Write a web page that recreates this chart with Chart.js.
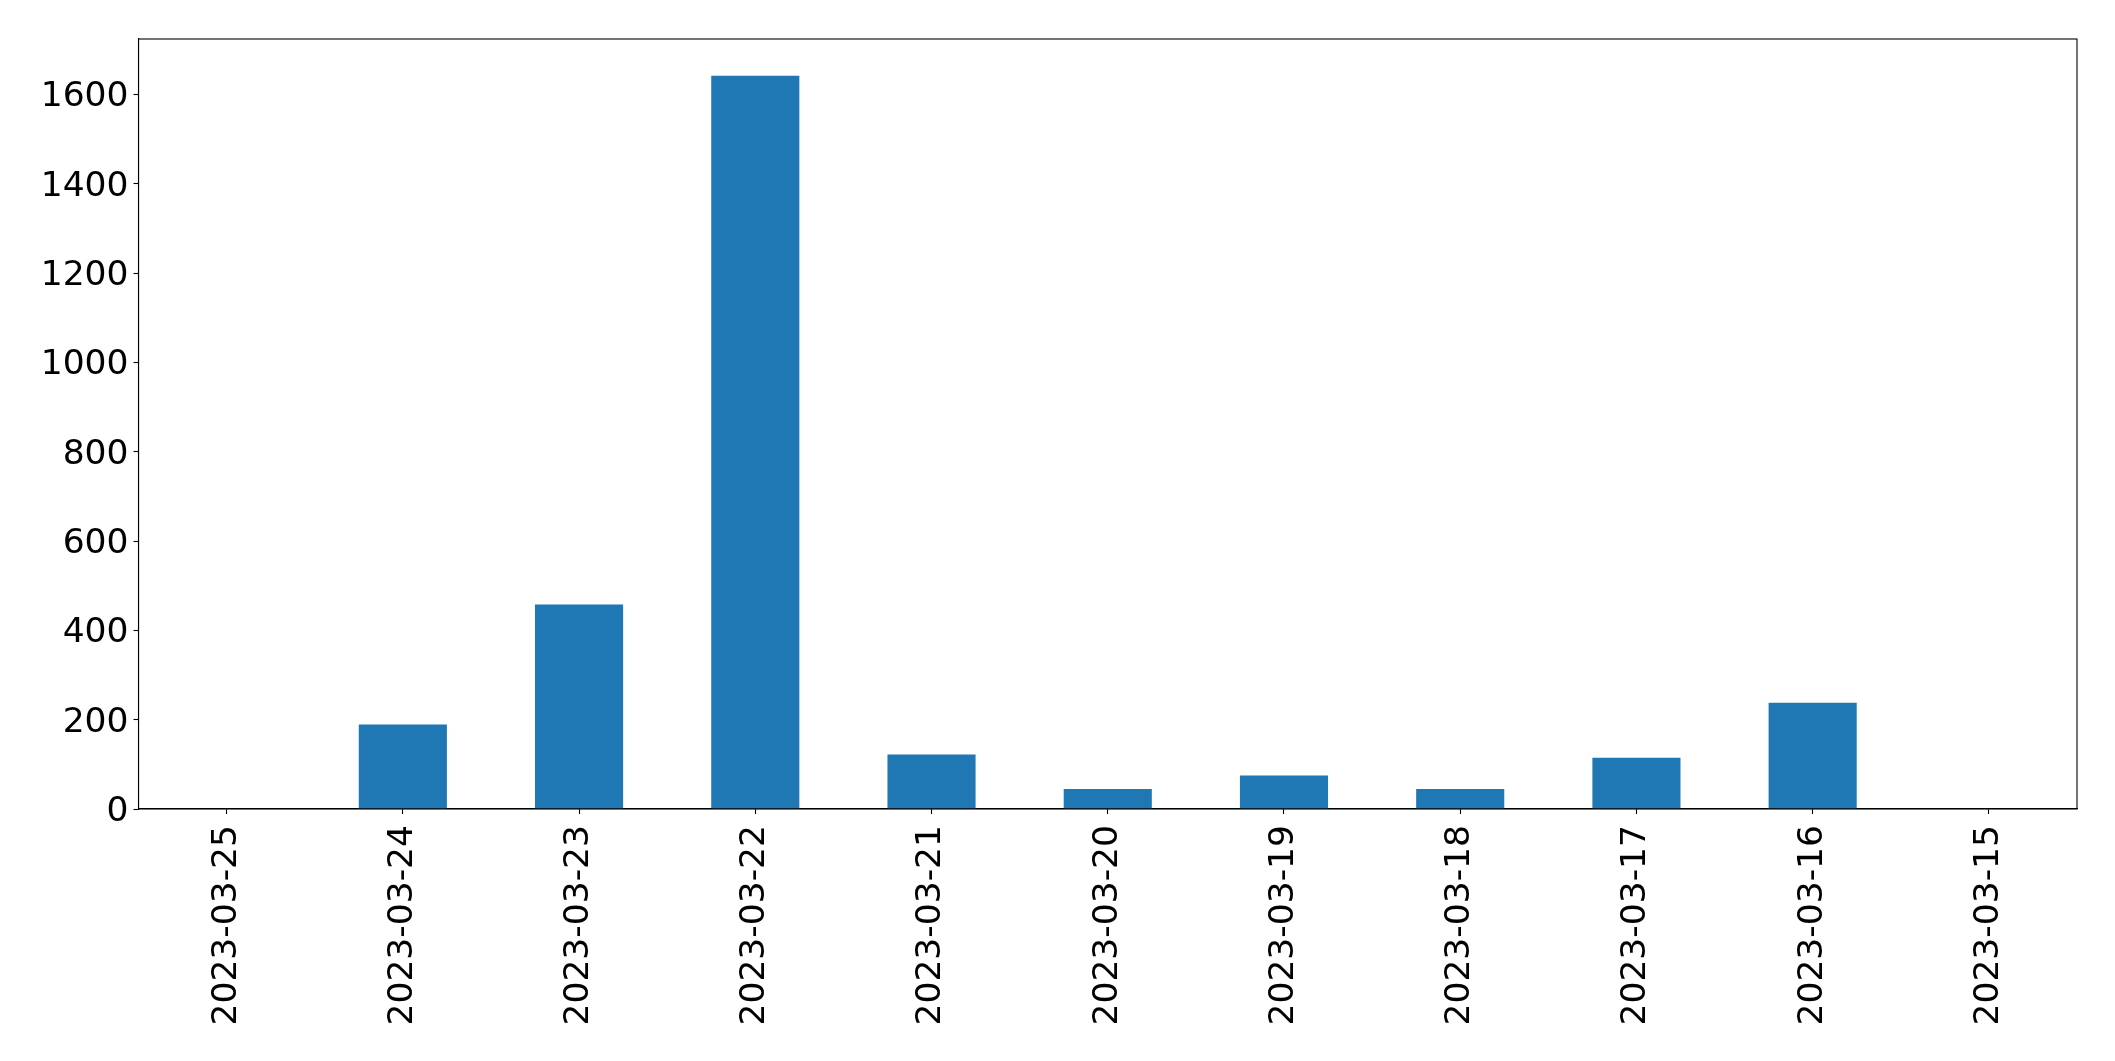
<!DOCTYPE html>
<html>
<head>
<meta charset="utf-8">
<script src="https://cdn.jsdelivr.net/npm/chart.js@4/dist/chart.umd.min.js"></script>
<style>
html,body{margin:0;padding:0;background:#fff;}
canvas{display:block;}
</style>
</head>
<body>
<canvas id="c" width="2115" height="1061"></canvas>
<script>
const categories = ["2023-03-25","2023-03-24","2023-03-23","2023-03-22","2023-03-21","2023-03-20","2023-03-19","2023-03-18","2023-03-17","2023-03-16","2023-03-15"];
const values = [0, 189, 458, 1642, 122, 45, 75, 45, 115, 238, 0];
const yTicks = [0, 200, 400, 600, 800, 1000, 1200, 1400, 1600];

const yMax = Math.max(...values) * 1.05;

const frame = {
  id: 'frame',
  afterDraw(chart) {
    const a = chart.chartArea, ctx = chart.ctx;
    ctx.save();
    ctx.strokeStyle = '#000';
    ctx.lineWidth = 1.1;
    ctx.strokeRect(a.left, a.top, a.right - a.left, a.bottom - a.top);
    ctx.restore();
  }
};

const font = {family: 'DejaVu Sans', size: 34.5};

new Chart(document.getElementById('c'), {
  type: 'bar',
  data: {
    labels: categories,
    datasets: [{
      data: values,
      backgroundColor: '#1f77b4',
      borderWidth: 0,
      barPercentage: 0.5,
      categoryPercentage: 1.0
    }]
  },
  options: {
    responsive: false,
    devicePixelRatio: 1,
    animation: false,
    layout: {padding: {left: 0, top: 39, right: 38, bottom: 0}},
    plugins: {legend: {display: false}, tooltip: {enabled: false}},
    scales: {
      x: {
        grid: {display: true, offset: false, drawOnChartArea: false, drawTicks: true, tickLength: 5, color: '#000', tickWidth: 1.1},
        border: {display: true, color: '#000', width: 1.1},
        ticks: {color: '#000', font: font, minRotation: 90, maxRotation: 90, padding: 11, autoSkip: false},
        afterFit(s) { s.height = 252; }
      },
      y: {
        min: 0,
        max: yMax,
        grid: {display: true, drawOnChartArea: false, drawTicks: true, tickLength: 5, color: '#000', tickWidth: 1.1},
        border: {display: true, color: '#000', width: 1.1},
        ticks: {color: '#000', font: font, padding: 5, labelOffset: 3, callback: v => String(v)},
        afterBuildTicks(s) { s.ticks = yTicks.map(v => ({value: v})); },
        afterFit(s) { s.width = 138.5; }
      }
    }
  },
  plugins: [frame]
});
</script>
</body>
</html>
